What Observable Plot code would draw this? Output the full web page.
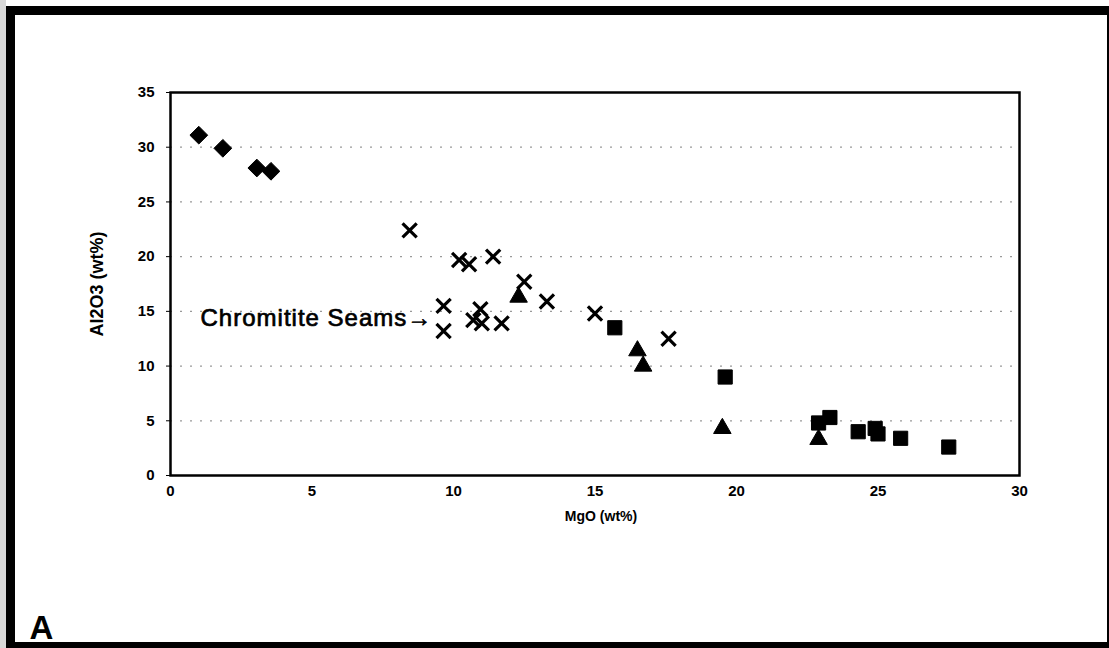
<!DOCTYPE html>
<html>
<head>
<meta charset="utf-8">
<script src="https://cdn.jsdelivr.net/npm/d3@7"></script>
<script src="https://cdn.jsdelivr.net/npm/@observablehq/plot@0.6"></script>
<style>
  html, body { margin: 0; padding: 0; background: #fff; }
  #wrap { position: relative; width: 1109px; height: 648px; overflow: hidden; }
  #border { position: absolute; left: 6px; top: 6px; right: 0; bottom: 0;
    border-top: 9px solid #000; border-left: 9px solid #000; border-bottom: 6px solid #000; border-right: 2px solid #000;
    pointer-events: none; }
  #grain { position: absolute; left: 0; top: 0; width: 6px; height: 648px; background: #d8d8d8; }
  svg { position: absolute; left: 0; top: 0; }
  svg [aria-label="x-axis tick label"], svg [aria-label="y-axis tick label"] { font-size: 15px; font-weight: bold; }
  svg g.seams { letter-spacing: 1px; }
</style>
</head>
<body>
<div id="wrap"><div id="grain"></div></div>
<script>
// Series (MgO wt%, Al2O3 wt%)
const diamondX = [1.0, 1.85, 3.05, 3.55];
const diamondY = [31.1, 29.9, 28.1, 27.8];

const crossX = [8.45, 10.2, 10.55, 11.4, 12.5, 13.3, 15.0, 9.65, 9.65, 10.95, 10.7, 11.0, 11.7, 17.6];
const crossY = [22.4, 19.7, 19.3, 20.0, 17.7, 15.9, 14.8, 15.5, 13.2, 15.2, 14.2, 13.9, 13.9, 12.5];

const triangleX = [12.3, 16.5, 16.7, 19.5, 22.9];
const triangleY = [16.3, 11.4, 10.0, 4.3, 3.3];

const squareX = [15.7, 19.6, 23.3, 22.9, 24.3, 24.9, 25.0, 25.8, 27.5];
const squareY = [13.5, 9.0, 5.3, 4.8, 4.0, 4.3, 3.8, 3.4, 2.6];

const xTicks = [0, 5, 10, 15, 20, 25, 30];
const yTicks = [0, 5, 10, 15, 20, 25, 30, 35];
const gridY = [5, 10, 15, 20, 25, 30];

const annotation = [{x: 9.25, y: 14.4, label: "Chromitite Seams\u2192"}];
const xLabel = "MgO (wt%)";
const yLabel = "Al2O3 (wt%)";
const panelLabel = "A";

const toRows = (xs, ys) => xs.map((x, i) => ({x, y: ys[i]}));

const font = "Arial, 'Liberation Sans', sans-serif";

const chart = Plot.plot({
  width: 1109,
  height: 648,
  marginLeft: 170,
  marginRight: 90,
  marginTop: 92,
  marginBottom: 173,
  style: {fontFamily: font, fontSize: "14px", background: "transparent", overflow: "visible"},
  x: {domain: [0, 30]},
  y: {domain: [0, 35]},
  marks: [
    Plot.ruleY(gridY, {stroke: "#999", strokeWidth: 1.2, strokeDasharray: "2,8"}),
    Plot.frame({stroke: "#000", strokeWidth: 2.5}),
    Plot.axisX({ticks: xTicks, tickSize: 0, tickPadding: 10, fontSize: 15, fontWeight: "bold", label: null, fill: "#000"}),
    Plot.axisY({ticks: yTicks, tickSize: 4, tickPadding: 12, fontSize: 15, fontWeight: "bold", label: null, fill: "#000"}),
    Plot.dot(toRows(diamondX, diamondY), {x: "x", y: "y", symbol: "diamond2", r: 8, fill: "#000", stroke: "#000", strokeWidth: 1}),
    Plot.dot(toRows(squareX, squareY), {x: "x", y: "y", symbol: "square", r: 8, fill: "#000", stroke: "#000", strokeWidth: 1}),
    Plot.dot(toRows(triangleX, triangleY), {x: "x", y: "y", symbol: "triangle", r: 6.5, fill: "#000", stroke: "#000", strokeWidth: 1}),
    Plot.dot(toRows(crossX, crossY), {x: "x", y: "y", symbol: "times", r: 6.5, stroke: "#000", strokeWidth: 3.2}),
    Plot.text(annotation, {x: "x", y: "y", text: "label", textAnchor: "end", fontSize: 24, fill: "#000", stroke: "#000", strokeWidth: 0.7, className: "seams"}),
    Plot.text([xLabel], {frameAnchor: "bottom", dx: 6, dy: 45, fontSize: 14, fontWeight: "bold", fill: "#000"}),
    Plot.text([yLabel], {frameAnchor: "left", textAnchor: "middle", dx: -73, rotate: -90, fontSize: 18, fontWeight: "bold", fill: "#000"}),
    Plot.text([panelLabel], {frameAnchor: "bottom-left", dx: -141, dy: 163, fontSize: 33, fontWeight: "bold", fill: "#000"})
  ]
});

const wrap = document.getElementById("wrap");
wrap.appendChild(chart);
const border = document.createElement("div");
border.id = "border";
wrap.appendChild(border);
</script>
</body>
</html>
